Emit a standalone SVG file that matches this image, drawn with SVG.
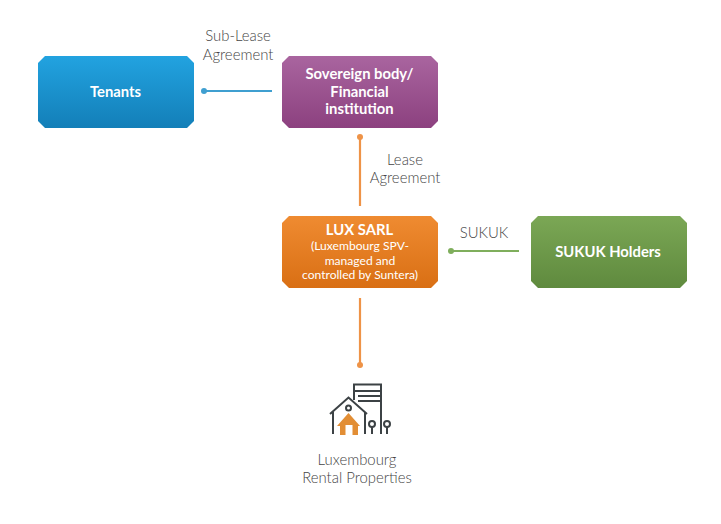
<svg xmlns="http://www.w3.org/2000/svg" width="721" height="524" viewBox="0 0 721 524">
<defs>
<linearGradient id="gb" x1="0" y1="0" x2="0" y2="1"><stop offset="0" stop-color="#22a3e0"/><stop offset="1" stop-color="#137fb8"/></linearGradient>
<linearGradient id="gp" x1="0" y1="0" x2="0" y2="1"><stop offset="0" stop-color="#a9659f"/><stop offset="1" stop-color="#8c417f"/></linearGradient>
<linearGradient id="go" x1="0" y1="0" x2="0" y2="1"><stop offset="0" stop-color="#ef8b31"/><stop offset="1" stop-color="#d96f14"/></linearGradient>
<linearGradient id="gg" x1="0" y1="0" x2="0" y2="1"><stop offset="0" stop-color="#7ba755"/><stop offset="1" stop-color="#5f8a3e"/></linearGradient>
</defs>
<style>
text{font-family:Lato,"Liberation Sans",sans-serif;text-anchor:middle}
.t{font-size:14.8px;font-weight:700;fill:#fff}
.s{font-size:12.100px;fill:#fff}
.l{font-size:14.900px;fill:#444;font-weight:300}
.c{fill:none;stroke-width:2.2}
.i{fill:none;stroke:#3c4245;stroke-width:2}
</style>
<rect width="721" height="524" fill="#fff"/>
<g id="connectors">
<path class="c" stroke="#3f9fd0" d="M204 91H272"/><circle cx="204" cy="91" r="3" fill="#3f9fd0"/>
<path class="c" stroke="#ee9347" d="M360 137V206"/><circle cx="360" cy="137" r="3" fill="#ee9347"/>
<path class="c" stroke="#7fae5c" d="M451 251H519"/><circle cx="451" cy="251" r="3" fill="#7fae5c"/>
<path class="c" stroke="#ee9347" d="M360 298V365"/><circle cx="360" cy="365" r="3" fill="#ee9347"/>
</g>
<g id="tenants">
<path fill="url(#gb)" d="M45 56H187L194 63V121L187 128H45L38 121V63Z"/>
<text class="t" x="115.500" y="96.500">Tenants</text>
</g>
<g id="sovereign">
<path fill="url(#gp)" d="M289 56H431L438 63V121L431 128H289L282 121V63Z"/>
<text class="t" x="359.500" y="79">Sovereign body/</text>
<text class="t" x="359.500" y="96.500">Financial</text>
<text class="t" x="359.500" y="114">institution</text>
</g>
<g id="lux">
<path fill="url(#go)" d="M289 216H431L438 223V281L431 288H289L282 281V223Z"/>
<text class="t" x="359.500" y="235">LUX SARL</text>
<text class="s" x="360" y="250">(Luxembourg SPV-</text>
<text class="s" x="360" y="265">managed and</text>
<text class="s" x="360" y="279">controlled by Suntera)</text>
</g>
<g id="holders">
<path fill="url(#gg)" d="M538 216H680L687 223V281L680 288H538L531 281V223Z"/>
<text class="t" x="608" y="256.500">SUKUK Holders</text>
</g>
<g id="labels">
<text class="l" x="238" y="41">Sub-Lease</text>
<text class="l" x="238" y="60">Agreement</text>
<text class="l" x="405" y="165">Lease</text>
<text class="l" x="405" y="183">Agreement</text>
<text class="l" x="484" y="238">SUKUK</text>
</g>
<g id="properties">
<path class="i" d="M354 400V384.500H381V434"/>
<path class="i" d="M354 391H381M358 396H381M358 401H381"/>
<path class="i" d="M333 434V412M365 412V434M330 414L348.500 397.500L367 414"/>
<circle class="i" cx="348.500" cy="408" r="2.500"/>
<path fill="#e28e35" d="M337 426L348.500 413L360 426H358V435H352.500V425H345.500V435H340V426Z"/>
<path class="i" d="M372 434V427M387 434V427"/>
<circle class="i" cx="372" cy="424" r="3"/>
<circle class="i" cx="387" cy="424" r="3"/>
<text class="l" x="357" y="465">Luxembourg</text>
<text class="l" x="357" y="483">Rental Properties</text>
</g>
</svg>
